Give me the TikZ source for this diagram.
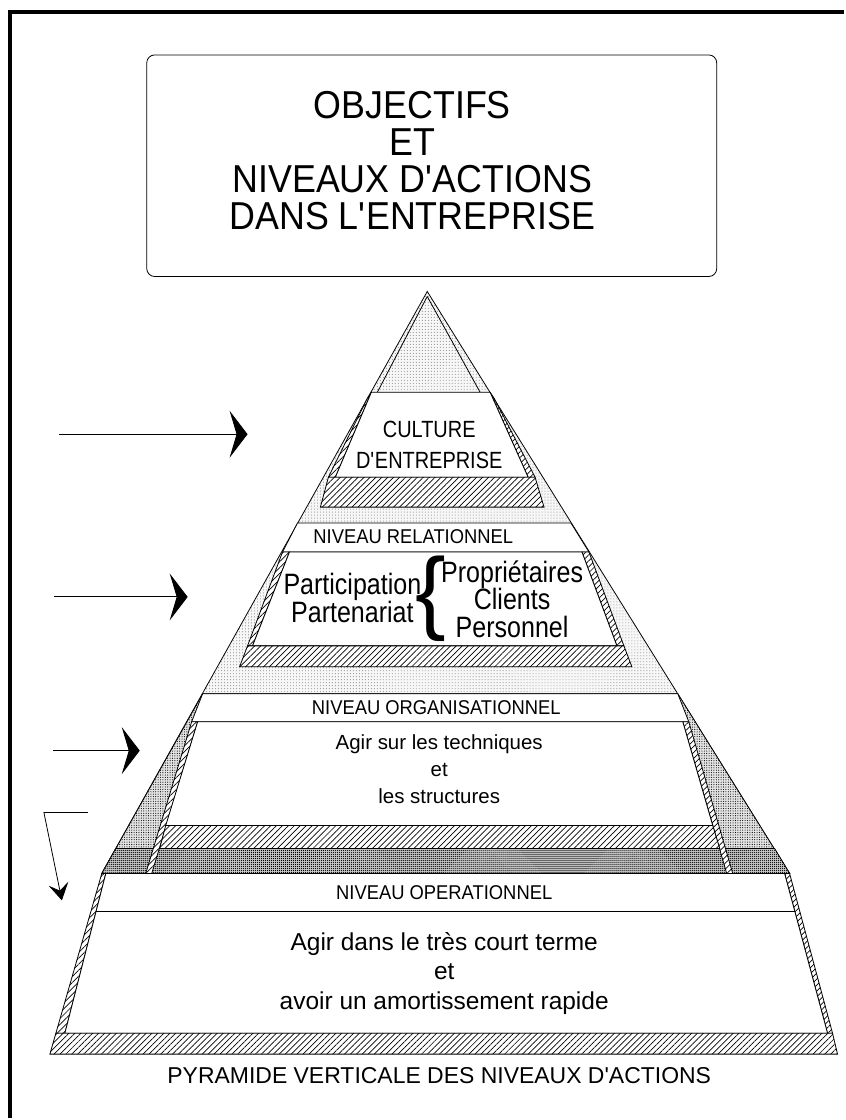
\documentclass[tikz,border=0pt]{standalone}
\usepackage{fontspec}
\setmainfont{Liberation Sans}
\newfontfamily\narrowsans{Liberation Sans}[FakeStretch=0.85]
\newfontfamily\semisans{Liberation Sans}[FakeStretch=0.92]
\usetikzlibrary{arrows.meta, calc, patterns.meta}

\begin{document}
\begin{tikzpicture}[
    x=1pt, y=-1pt,
    every node/.style={inner sep=0pt, align=center},
    outline/.style={draw, line width=0.8pt},
    whiteface/.style={outline, fill=white},
    lightdots/.style={outline, fill=gray!6,
      postaction={pattern={Dots[distance=3pt, radius=0.45pt]}, pattern color=black!60}},
    middots/.style={outline, fill=gray!22,
      postaction={pattern={Dots[distance=2.4pt, radius=0.55pt]}, pattern color=black}},
    darkdots/.style={outline, fill=gray!45,
      postaction={pattern={Dots[distance=2pt, radius=0.6pt]}, pattern color=black}},
    hatched/.style={outline, fill=white,
      postaction={pattern={Lines[angle=45, distance=4.2pt, line width=0.7pt]}}},
    titlebox/.style={draw, rounded corners=8pt, line width=0.8pt,
      minimum width=571pt, minimum height=222pt},
    bigarrow/.style={line width=0.9pt, -{Stealth[length=18pt, width=47pt, inset=7pt]}},
    bentarrow/.style={line width=0.8pt, -{Stealth[length=17pt, width=20pt, inset=7pt]}},
    titlefont/.style={font=\semisans\fontsize{39}{37}\selectfont},
    levelfont/.style={font=\semisans\fontsize{20}{20}\selectfont},
    cultfont/.style={font=\narrowsans\fontsize{23.5}{31}\selectfont},
    partfont/.style={font=\narrowsans\fontsize{29.5}{27.5}\selectfont},
    techfont/.style={font=\fontsize{20.5}{27}\selectfont},
    opfont/.style={font=\fontsize{24.5}{29.5}\selectfont},
    captionfont/.style={font=\fontsize{23}{25}\selectfont}
  ]
  \fill[white] (0,0) rectangle (845,1120);
  % frame, only the top and left sides show
  \draw[line width=4pt] (10,1120) -- (10,12) -- (845,12);

  % title
  \node[titlebox] (tbox) at (432.5,166) {};
  \node[titlefont] (title) at (413,160.5) {OBJECTIFS\\ET\\NIVEAUX D\textquotesingle ACTIONS\\DANS L\textquotesingle ENTREPRISE};

  % pyramid silhouette
  \coordinate (apex)  at (428,292);
  \coordinate (baseL) at (102,875);
  \coordinate (baseR) at (791,875);
  \draw[lightdots] (apex) -- (baseL) -- (baseR) -- cycle;
  \draw[middots] (203,695) -- (679,695) -- (baseR) -- (baseL) -- cycle;
  \draw[darkdots] (116,850) -- (776,850) -- (baseR) -- (baseL) -- cycle;

  % level 1: culture
  \draw[outline] (428,297) -- (378,393);
  \draw[outline] (428,297) -- (481,393);
  \draw[hatched] (372,393) -- (368,399) -- (329,478) -- (336,478) -- cycle;
  \draw[hatched] (491,393) -- (495,399) -- (536,478) -- (529,478) -- cycle;
  \draw[whiteface] (372,393) -- (491,393) -- (529,478) -- (336,478) -- cycle;
  \draw[hatched] (329,478) -- (536,478) -- (545,508) -- (321,508) -- cycle;
  \draw[whiteface] (298,524) -- (572,524) -- (590,553) -- (283,553) -- cycle;

  % level 2: relations
  \draw[hatched] (283,553) -- (290,553) -- (253,647) -- (248,647) -- cycle;
  \draw[hatched] (583,553) -- (590,553) -- (625,647) -- (618,647) -- cycle;
  \draw[whiteface] (290,553) -- (583,553) -- (618,647) -- (253,647) -- cycle;
  \draw[hatched] (248,647) -- (625,647) -- (633,668) -- (240,668) -- cycle;
  \draw[whiteface] (203,695) -- (679,695) -- (690,723) -- (192,723) -- cycle;

  % level 3: organisation
  \draw[hatched] (192,723) -- (198,723) -- (152,875) -- (146,875) -- cycle;
  \draw[hatched] (684,723) -- (690,723) -- (734,875) -- (728,875) -- cycle;
  \draw[whiteface] (198,723) -- (684,723) -- (714,827) -- (166,827) -- cycle;
  \draw[hatched] (166,827) -- (714,827) -- (721,850) -- (160,850) -- cycle;

  % level 4: operations
  \coordinate (botL) at (50,1056);
  \coordinate (botR) at (839,1056);
  \draw[hatched] (baseL) -- (106,875) -- (65,1035) -- (56,1035) -- cycle;
  \draw[hatched] (786,875) -- (baseR) -- (834,1035) -- (829,1035) -- cycle;
  \draw[whiteface] (106,875) -- (786,875) -- (829,1035) -- (65,1035) -- cycle;
  \draw[outline] (96,913) -- (796,913);
  \draw[hatched] (56,1035) -- (834,1035) -- (botR) -- (botL) -- cycle;

  % texts on the levels
  \node[cultfont] (culture) at (430,446) {CULTURE\\D\textquotesingle ENTREPRISE};
  \node[levelfont] (relat) at (414,538) {NIVEAU RELATIONNEL};
  \node[partfont] (partic) at (353,599) {Participation\\Partenariat};
  \node[font=\fontsize{92}{92}\selectfont] (brace) at (432,600) {\{};
  \node[partfont] (partners) at (513,600) {Propriétaires\\Clients\\Personnel};
  \node[levelfont] (organ) at (437,709) {NIVEAU ORGANISATIONNEL};
  \node[techfont] (tech) at (440,771) {Agir sur les techniques\\et\\les structures};
  \node[levelfont] (operat) at (445,894) {NIVEAU OPERATIONNEL};
  \node[opfont] (court) at (445,975) {Agir dans le très court terme\\et\\avoir un amortissement rapide};
  \node[captionfont] (caption) at (440,1078) {PYRAMIDE VERTICALE DES NIVEAUX D\textquotesingle ACTIONS};

  % arrows on the left
  \coordinate (arr1s) at (59,435);  \coordinate (arr1e) at (248,435);
  \coordinate (arr2s) at (54,598);  \coordinate (arr2e) at (188,598);
  \coordinate (arr3s) at (53,752);  \coordinate (arr3e) at (140,752);
  \draw[bigarrow] (arr1s) -- (arr1e);
  \draw[bigarrow] (arr2s) -- (arr2e);
  \draw[bigarrow] (arr3s) -- (arr3e);
  \coordinate (bend0) at (88,814);
  \coordinate (bend1) at (44,814);
  \coordinate (bend2) at (62,902);
  \draw[bentarrow] (bend0) -- (bend1) -- (bend2);
\end{tikzpicture}
\end{document}
